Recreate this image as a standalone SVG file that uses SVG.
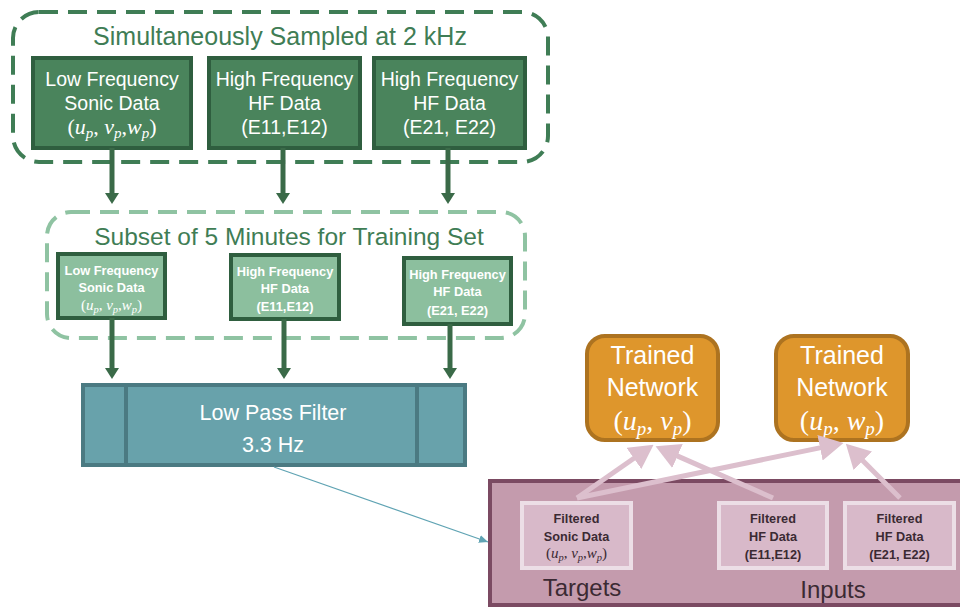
<svg xmlns="http://www.w3.org/2000/svg" width="960" height="607" viewBox="0 0 960 607">
<style>
.sans{font-family:"Liberation Sans",Arial,sans-serif;}
.math{font-family:"Liberation Serif","DejaVu Serif",serif;}
.it{font-style:italic;}
.dash1{fill:none;stroke:#3f7d55;stroke-width:4;stroke-dasharray:19 10;}
.dash2{fill:none;stroke:#8fc3a2;stroke-width:4;stroke-dasharray:19 10;}
.g1{fill:#4a845c;stroke:#2f5e3f;stroke-width:4;}
.g2{fill:#8cbf9e;stroke:#2f5e3f;stroke-width:4;}
.t1{font-size:19.5px;fill:#ffffff;text-anchor:middle;}
.t2{font-size:12.8px;font-weight:bold;fill:#ffffff;text-anchor:middle;}
.title{font-size:25px;fill:#3f7d55;text-anchor:middle;}
.garrow{fill:none;stroke:#3a6a48;stroke-width:5;}
.parrow{fill:none;stroke:#dcbfcd;stroke-width:5;}
.orange{fill:#de962c;stroke:#ad7320;stroke-width:4;}
.tw{font-size:25px;fill:#ffffff;text-anchor:middle;}
.inner{fill:#d8b9c9;stroke:#ecdee6;stroke-width:4;}
.tp{font-size:12.7px;font-weight:bold;fill:#3b2a33;text-anchor:middle;}
.lab{font-size:24px;fill:#3b2a33;text-anchor:middle;}
</style>
<defs>
<marker id="ga" markerUnits="userSpaceOnUse" viewBox="0 -7 11 14" refX="0" refY="0" markerWidth="11" markerHeight="14" orient="auto">
<path d="M0,-7 L11,0 L0,7 z" fill="#3a6a48"/>
</marker>
<marker id="pa" markerUnits="userSpaceOnUse" viewBox="0 -13 24 26" refX="1" refY="0" markerWidth="24" markerHeight="26" orient="auto">
<path d="M0,-13 L24,0 L0,13 z" fill="#dcbfcd"/>
</marker>
<marker id="ta" markerUnits="userSpaceOnUse" viewBox="0 -4 9 8" refX="9" refY="0" markerWidth="9" markerHeight="8" orient="auto">
<path d="M0,-4 L9,0 L0,4 z" fill="#5fa3b3"/>
</marker>
</defs>

<g id="group-sampled">
<rect class="dash1" x="13" y="12" width="535" height="150" rx="26"/>
<text class="sans title" x="280" y="45">Simultaneously Sampled at 2 kHz</text>
</g>

<g id="raw-sonic">
<rect class="g1" x="33" y="58" width="158" height="90"/>
<text class="sans t1" x="112" y="86">Low Frequency</text>
<text class="sans t1" x="112" y="110">Sonic Data</text>
<text class="math" font-size="22" fill="#ffffff" text-anchor="middle" x="112" y="134">(<tspan class="it">u</tspan><tspan font-size="15" dy="4" class="it">p</tspan><tspan dy="-4">, </tspan><tspan class="it">v</tspan><tspan font-size="15" dy="4" class="it">p</tspan><tspan dy="-4">,</tspan><tspan class="it">w</tspan><tspan font-size="15" dy="4" class="it">p</tspan><tspan dy="-4">)</tspan></text>
</g>

<g id="raw-hf1">
<rect class="g1" x="209" y="58" width="151" height="90"/>
<text class="sans t1" x="284.5" y="86">High Frequency</text>
<text class="sans t1" x="284.5" y="110">HF Data</text>
<text class="sans t1" x="284.5" y="134">(E11,E12)</text>
</g>

<g id="raw-hf2">
<rect class="g1" x="374" y="58" width="151" height="90"/>
<text class="sans t1" x="449.5" y="86">High Frequency</text>
<text class="sans t1" x="449.5" y="110">HF Data</text>
<text class="sans t1" x="449.5" y="134">(E21, E22)</text>
</g>

<g id="group-subset">
<rect class="dash2" x="47" y="212" width="478" height="126" rx="24"/>
<text class="sans title" style="font-size:24.5px" x="289" y="245">Subset of 5 Minutes for Training Set</text>
</g>

<g id="sub-sonic">
<rect class="g2" x="58" y="254" width="107" height="64"/>
<text class="sans t2" x="111.5" y="275">Low Frequency</text>
<text class="sans t2" x="111.5" y="292">Sonic Data</text>
<text class="math" font-size="15" fill="#ffffff" text-anchor="middle" x="111.5" y="310">(<tspan class="it">u</tspan><tspan font-size="10.5" dy="3" class="it">p</tspan><tspan dy="-3">, </tspan><tspan class="it">v</tspan><tspan font-size="10.5" dy="3" class="it">p</tspan><tspan dy="-3">,</tspan><tspan class="it">w</tspan><tspan font-size="10.5" dy="3" class="it">p</tspan><tspan dy="-3">)</tspan></text>
</g>

<g id="sub-hf1">
<rect class="g2" x="231" y="255" width="108" height="64"/>
<text class="sans t2" x="285" y="276">High Frequency</text>
<text class="sans t2" x="285" y="293">HF Data</text>
<text class="sans t2" x="285" y="311">(E11,E12)</text>
</g>

<g id="sub-hf2">
<rect class="g2" x="404" y="258" width="107" height="66"/>
<text class="sans t2" x="457.5" y="279">High Frequency</text>
<text class="sans t2" x="457.5" y="296">HF Data</text>
<text class="sans t2" x="457.5" y="315">(E21, E22)</text>
</g>

<g id="filter">
<rect x="83" y="385" width="382" height="80" fill="#68a2ab" stroke="#4b7a82" stroke-width="4"/>
<line x1="126" y1="385" x2="126" y2="465" stroke="#4b7a82" stroke-width="4"/>
<line x1="417" y1="385" x2="417" y2="465" stroke="#4b7a82" stroke-width="4"/>
<text class="sans" font-size="21.5" fill="#ffffff" text-anchor="middle" x="273" y="420">Low Pass Filter</text>
<text class="sans" font-size="21.5" fill="#ffffff" text-anchor="middle" x="273" y="452">3.3 Hz</text>
</g>

<g id="filtered-set">
<rect x="490" y="481" width="480" height="124" fill="#c49bad" stroke="#7b4a62" stroke-width="4"/>
<text class="sans lab" x="582" y="596">Targets</text>
<text class="sans lab" x="833" y="598">Inputs</text>
</g>

<g id="filt-sonic">
<rect class="inner" x="522" y="503" width="109" height="65"/>
<text class="sans tp" x="576.5" y="523">Filtered</text>
<text class="sans tp" x="576.5" y="541">Sonic Data</text>
<text class="math" font-size="15" fill="#3b2a33" text-anchor="middle" x="576.5" y="558">(<tspan class="it">u</tspan><tspan font-size="10.5" dy="3" class="it">p</tspan><tspan dy="-3">, </tspan><tspan class="it">v</tspan><tspan font-size="10.5" dy="3" class="it">p</tspan><tspan dy="-3">,</tspan><tspan class="it">w</tspan><tspan font-size="10.5" dy="3" class="it">p</tspan><tspan dy="-3">)</tspan></text>
</g>

<g id="filt-hf1">
<rect class="inner" x="719" y="503" width="108" height="65"/>
<text class="sans tp" x="773" y="523">Filtered</text>
<text class="sans tp" x="773" y="541">HF Data</text>
<text class="sans tp" x="773" y="559">(E11,E12)</text>
</g>

<g id="filt-hf2">
<rect class="inner" x="845" y="503" width="109" height="65"/>
<text class="sans tp" x="899.5" y="523">Filtered</text>
<text class="sans tp" x="899.5" y="541">HF Data</text>
<text class="sans tp" x="899.5" y="559">(E21, E22)</text>
</g>

<g id="net-uv">
<rect class="orange" x="587" y="336" width="131" height="104" rx="18"/>
<text class="sans tw" x="652.5" y="364">Trained</text>
<text class="sans tw" x="652.5" y="396">Network</text>
<text class="math" font-size="28" fill="#ffffff" text-anchor="middle" x="652.5" y="430">(<tspan class="it">u</tspan><tspan font-size="19" dy="5" class="it">p</tspan><tspan dy="-5">, </tspan><tspan class="it">v</tspan><tspan font-size="19" dy="5" class="it">p</tspan><tspan dy="-5">)</tspan></text>
</g>

<g id="net-uw">
<rect class="orange" x="776" y="336" width="132" height="104" rx="18"/>
<text class="sans tw" x="842" y="364">Trained</text>
<text class="sans tw" x="842" y="396">Network</text>
<text class="math" font-size="28" fill="#ffffff" text-anchor="middle" x="842" y="430">(<tspan class="it">u</tspan><tspan font-size="19" dy="5" class="it">p</tspan><tspan dy="-5">, </tspan><tspan class="it">w</tspan><tspan font-size="19" dy="5" class="it">p</tspan><tspan dy="-5">)</tspan></text>
</g>

<g id="connectors">
<path class="garrow" d="M112,148 V193" marker-end="url(#ga)"/>
<path class="garrow" d="M283,148 V193" marker-end="url(#ga)"/>
<path class="garrow" d="M448,148 V193" marker-end="url(#ga)"/>
<path class="garrow" d="M112,318 V368" marker-end="url(#ga)"/>
<path class="garrow" d="M284,319 V368" marker-end="url(#ga)"/>
<path class="garrow" d="M450,324 V368" marker-end="url(#ga)"/>
<path d="M274,467 L488,542" fill="none" stroke="#5fa3b3" stroke-width="1.2" marker-end="url(#ta)"/>
<path class="parrow" d="M577,498 L634.7,457.8" marker-end="url(#pa)"/>
<path class="parrow" d="M773,498 L676.6,455.6" marker-end="url(#pa)"/>
<path class="parrow" d="M577,498 L821,447.6" marker-end="url(#pa)"/>
<path class="parrow" d="M900,498 L862.1,460.1" marker-end="url(#pa)"/>
</g>
</svg>
